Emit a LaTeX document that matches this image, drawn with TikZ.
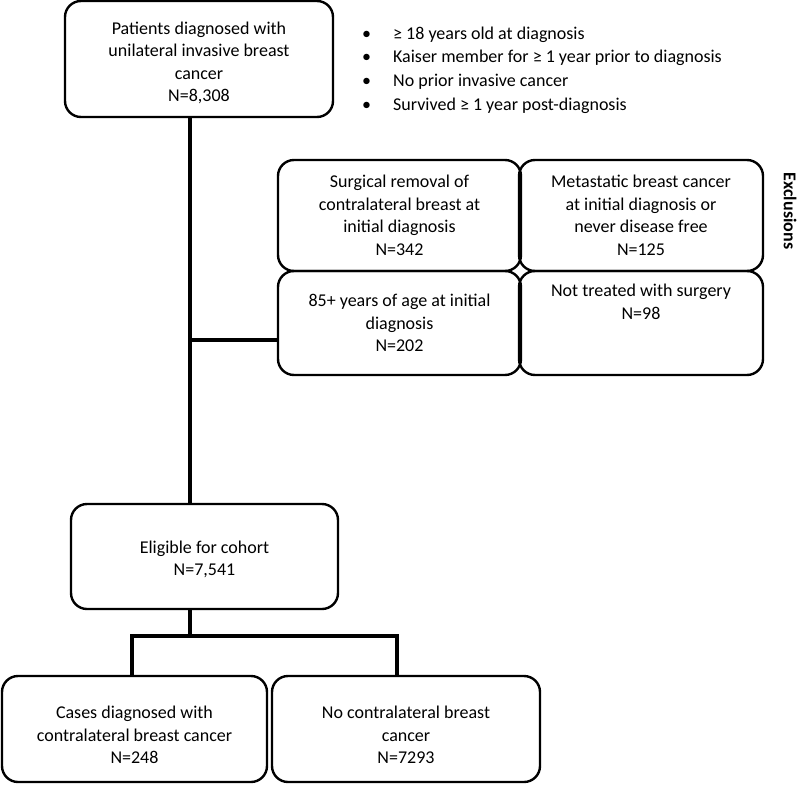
\documentclass[tikz,border=0pt]{standalone}
\usepackage{fontspec}
\setmainfont{Carlito}
\usepackage{tikz}

\begin{document}
\begin{tikzpicture}[x=1pt, y=-1pt,
   every node/.style={font=\fontsize{18}{22.5}\selectfont},
   box/.style={draw=black, line width=2.4pt, rounded corners=16pt, align=center, inner sep=4pt},
   conn/.style={draw=black, line width=3.2pt}]

   \useasboundingbox (0,0) rectangle (800,784);

   \node[box, minimum width=268pt, minimum height=116pt, text height=88pt] (pat) at (199,59)
      {Patients diagnosed with\\unilateral invasive breast\\cancer\\N=8,308};

   \node[anchor=north west, inner sep=0pt, font=\fontsize{18}{23.6}\selectfont] (crit) at (362,22.5)
      {\begin{tabular}{@{}l@{\hspace{22pt}}l@{}}
       • & ≥ 18 years old at diagnosis\\
       • & Kaiser member for ≥ 1 year prior to diagnosis\\
       • & No prior invasive cancer\\
       • & Survived ≥ 1 year post-diagnosis
       \end{tabular}};

   \node[box, minimum width=243pt, minimum height=111pt] (surg) at (399.5,215.5)
      {Surgical removal of\\contralateral breast at\\initial diagnosis\\N=342};
   \node[box, minimum width=244pt, minimum height=111pt] (meta) at (641,215.5)
      {Metastatic breast cancer\\at initial diagnosis or\\never disease free\\N=125};
   \node[box, minimum width=243pt, minimum height=104pt] (age) at (399.5,323)
      {85+ years of age at initial\\diagnosis\\N=202};
   \node[box, minimum width=244pt, minimum height=104pt, text depth=43pt] (nosurg) at (641,323)
      {Not treated with surgery\\N=98};

   \node[rotate=-90, font=\fontsize{18}{22.5}\selectfont\bfseries] (excl) at (790,211) {Exclusions};

   \node[box, minimum width=267pt, minimum height=105pt, text height=41pt] (elig) at (204.5,556.5)
      {Eligible for cohort\\N=7,541};

   \node[box, minimum width=265pt, minimum height=106pt, text height=69.5pt] (cases) at (134.5,729)
      {Cases diagnosed with\\contralateral breast cancer\\N=248};
   \node[box, minimum width=268pt, minimum height=106pt, text height=69.5pt] (nocbc) at (406,729)
      {No contralateral breast\\cancer\\N=7293};

   \coordinate (spine) at (190,340);
   \coordinate (split) at (190,636);
   \coordinate (lft) at (132,636);
   \coordinate (rgt) at (397,636);

   \draw[conn] (pat.south -| spine) -- (elig.north -| spine);
   \draw[conn] (spine) -- (spine -| age.west);
   \draw[conn] (elig.south -| split) -- (split);
   \draw[conn] (cases.north -| lft) -- (lft) -- (rgt) -- (nocbc.north -| rgt);

\end{tikzpicture}
\end{document}
